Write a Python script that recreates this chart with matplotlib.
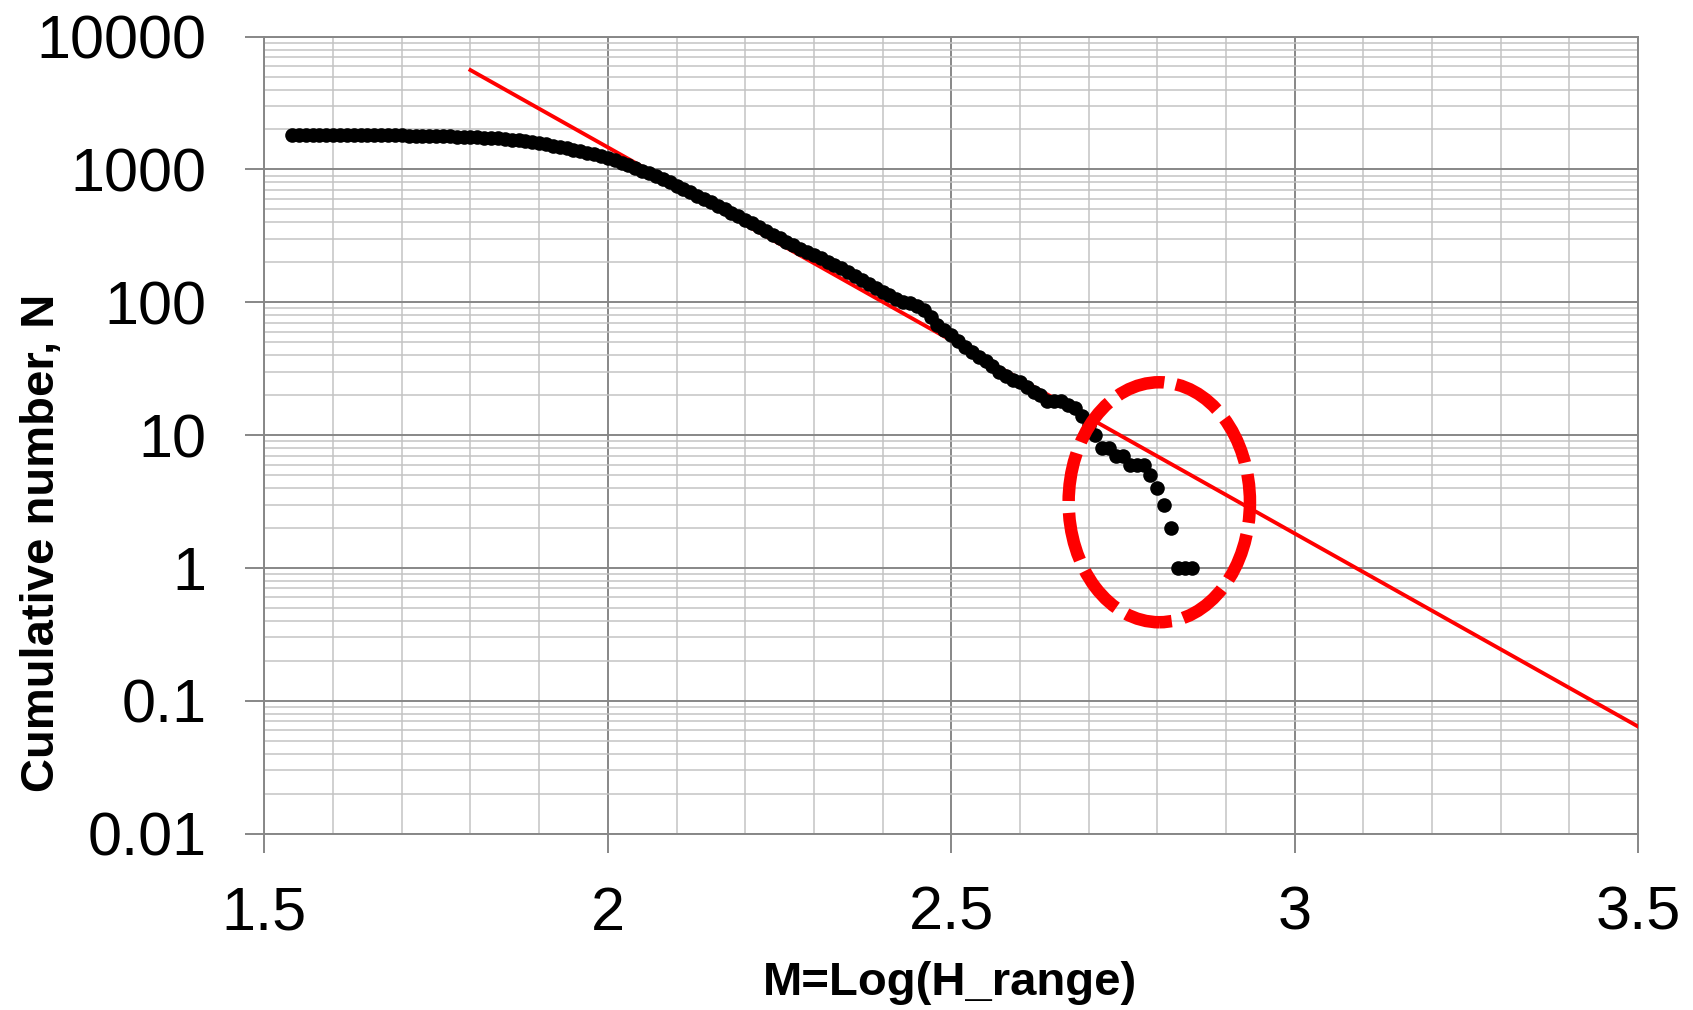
import numpy as np
import matplotlib
matplotlib.use("Agg")
import matplotlib.pyplot as plt
from matplotlib.patches import Ellipse
from matplotlib.ticker import FixedLocator, MultipleLocator, FuncFormatter

plt.rcParams['font.family'] = ['Liberation Sans', 'DejaVu Sans']

#!----------------------------------------------------------------------
#!	DATA
#!----------------------------------------------------------------------
mag = [1.54, 1.55, 1.56, 1.57, 1.58, 1.59, 1.60, 1.61, 1.62, 1.63,
       1.64, 1.65, 1.66, 1.67, 1.68, 1.69, 1.70, 1.71, 1.72, 1.73,
       1.74, 1.75, 1.76, 1.77, 1.78, 1.79, 1.80, 1.81, 1.82, 1.83,
       1.84, 1.85, 1.86, 1.87, 1.88, 1.89, 1.90, 1.91, 1.92, 1.93,
       1.94, 1.95, 1.96, 1.97, 1.98, 1.99, 2.00, 2.01, 2.02, 2.03,
       2.04, 2.05, 2.06, 2.07, 2.08, 2.09, 2.10, 2.11, 2.12, 2.13,
       2.14, 2.15, 2.16, 2.17, 2.18, 2.19, 2.20, 2.21, 2.22, 2.23,
       2.24, 2.25, 2.26, 2.27, 2.28, 2.29, 2.30, 2.31, 2.32, 2.33,
       2.34, 2.35, 2.36, 2.37, 2.38, 2.39, 2.40, 2.41, 2.42, 2.43,
       2.44, 2.45, 2.46, 2.47, 2.48, 2.49, 2.50, 2.51, 2.52, 2.53,
       2.54, 2.55, 2.56, 2.57, 2.58, 2.59, 2.60, 2.61, 2.62, 2.63,
       2.64, 2.65, 2.66, 2.67, 2.68, 2.69, 2.70, 2.71, 2.72, 2.73,
       2.74, 2.75, 2.76, 2.77, 2.78, 2.79, 2.80, 2.81, 2.82, 2.83,
       2.84, 2.85]
cum_n = [1820, 1820, 1820, 1819, 1819, 1818, 1818, 1817, 1816, 1815,
         1814, 1813, 1811, 1809, 1807, 1805, 1803, 1800, 1797, 1794,
         1790, 1786, 1781, 1776, 1771, 1765, 1758, 1750, 1740, 1728,
         1714, 1697, 1677, 1655, 1630, 1603, 1575, 1545, 1513, 1480,
         1446, 1410, 1373, 1336, 1298, 1260, 1222, 1170, 1125, 1075,
         1028, 980, 935, 890, 845, 800, 755, 715, 675, 635,
         600, 566, 535, 502, 472, 444, 417, 393, 368, 345,
         323, 304, 285, 268, 252, 239, 227, 214, 202, 191,
         181, 170, 159, 148, 137, 128, 120, 113, 106, 101,
         98, 94, 87, 77, 68, 62, 57, 51, 46, 42,
         39, 36, 33, 30, 28, 26, 25, 23, 21, 20,
         18, 18, 18, 17, 16, 14, 12, 10, 8, 8,
         7, 7, 6, 6, 6, 5, 4, 3, 2, 1,
         1, 1]

# fitted line end points
fit_m = [1.80, 3.50]
fit_n = [5600.0, 0.064]

# highlighted region (ellipse bounds)
ell_m = [2.671, 2.935]
ell_n = [0.39, 25.0]

x_ticks = [1.5, 2.0, 2.5, 3.0, 3.5]
y_ticks = [0.01, 0.1, 1, 10, 100, 1000, 10000]

#!----------------------------------------------------------------------
#!	PLOT
#!----------------------------------------------------------------------
major_gray = '#878787'
minor_gray = '#c3c3c3'

fig = plt.figure(figsize=(16.93, 10.10), dpi=100)
ax = fig.add_axes([0.1562, 0.1747, 0.8113, 0.789])

ax.set_yscale('log')
ax.set_xlim(1.5, 3.5)
ax.set_ylim(0.01, 10000)

ax.plot(fit_m, fit_n, '-', color='#ff0000', lw=2.8, zorder=3)
ax.plot(mag, cum_n, 'o', color='black', ms=10.5, mew=0, zorder=4)

# ellipse drawn in axes fractions from data bounds
pts = (ax.transData + ax.transAxes.inverted()).transform(
    np.column_stack([ell_m, ell_n]))
cx, cy = pts.mean(axis=0)
w, h = pts[1] - pts[0]
ell = Ellipse((cx, cy), w, h, transform=ax.transAxes, fill=False,
              edgecolor='#ff0000', lw=9, linestyle=(2.9, (3.9, 0.95)),
              capstyle='butt', zorder=5, clip_on=False)
ax.add_patch(ell)

ax.xaxis.set_major_locator(FixedLocator(x_ticks))
ax.xaxis.set_minor_locator(MultipleLocator(0.1))
ax.yaxis.set_major_locator(FixedLocator(y_ticks))
ax.yaxis.set_minor_locator(matplotlib.ticker.LogLocator(base=10, subs=np.arange(2, 10)))
ax.xaxis.set_major_formatter(FuncFormatter(lambda v, p: '%g' % v))
ax.yaxis.set_major_formatter(FuncFormatter(lambda v, p: '%g' % v))
ax.yaxis.set_minor_formatter(matplotlib.ticker.NullFormatter())

ax.grid(which='major', color=major_gray, lw=1.4)
ax.grid(which='minor', color=minor_gray, lw=1.1)
ax.set_axisbelow(True)

for s in ax.spines.values():
	s.set_color(major_gray)
	s.set_linewidth(1.4)

ax.tick_params(which='major', length=13.7, width=1.4, color=major_gray,
               labelsize=44, direction='out')
ax.tick_params(axis='y', which='major', pad=28)
ax.tick_params(axis='x', which='major', pad=24)
ax.tick_params(which='minor', length=0)

fig.text(0.5613, 0.027, 'M=Log(H_range)', fontsize=34, fontweight='bold',
         ha='center', va='center')
fig.text(0.0248, 0.4624, 'Cumulative number, N', fontsize=34, fontweight='bold',
         ha='center', va='center', rotation=90)

plt.savefig('out.png', dpi=100)
